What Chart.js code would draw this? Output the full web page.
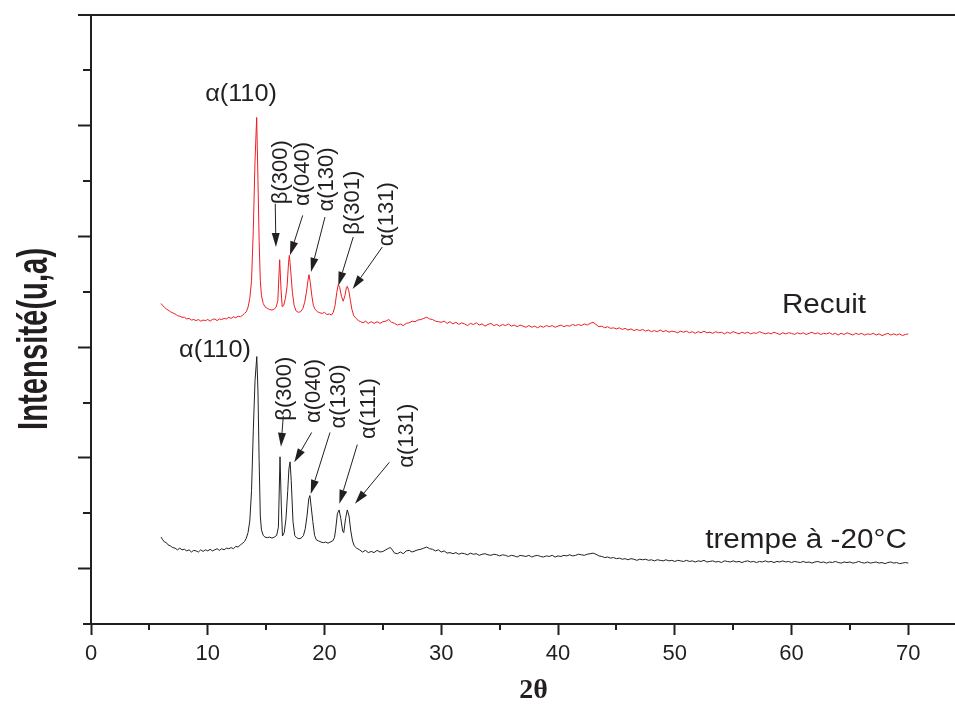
<!DOCTYPE html>
<html lang="fr">
<head>
<meta charset="utf-8">
<title>Diffractogrammes DRX</title>
<script src="https://cdn.jsdelivr.net/npm/chart.js@4.4.1/dist/chart.umd.min.js"></script>
<style>
  html, body { margin: 0; padding: 0; background: #fff; }
  canvas { display: block; }
</style>
</head>
<body>
<canvas id="drx" width="955" height="709"></canvas>
<script>
// Diffractogramme de l'échantillon recuit : [2θ (°), intensité (u.a.)]
const recuitScan = [
  [6.00,579],[6.15,575],[6.30,572],[6.45,569],[6.60,567],[6.80,564],[7.00,562],[7.20,560],[7.40,557],[7.60,556],
  [7.80,554],[8.00,554],[8.20,551],[8.40,552],[8.60,549],[8.80,550],[9.00,548],[9.20,550],[9.40,547],[9.60,549],
  [9.80,548],[10.00,550],[10.20,547],[10.40,550],[10.60,551],[10.80,548],[11.00,551],[11.20,550],[11.40,552],[11.60,551],
  [11.80,554],[12.00,552],[12.20,555],[12.40,553],[12.60,556],[12.80,555],[13.00,558],[13.15,561],[13.30,564],[13.45,572],
  [13.60,588],[13.75,620],[13.90,711],[14.05,838],[14.19,915],[14.30,801],[14.40,693],[14.50,620],[14.60,593],[14.75,579],
  [14.90,573],[15.10,570],[15.30,568],[15.50,567],[15.70,569],[15.85,572],[16.00,584],[16.16,658],[16.28,602],[16.38,573],
  [16.50,575],[16.65,588],[16.80,611],[16.92,653],[16.99,666],[17.10,639],[17.25,599],[17.40,575],[17.55,566],[17.75,563],
  [17.95,564],[18.15,570],[18.30,581],[18.45,599],[18.58,620],[18.67,631],[18.78,617],[18.92,592],[19.05,575],[19.20,568],
  [19.40,564],[19.60,562],[19.80,561],[20.00,563],[20.20,559],[20.40,560],[20.60,558],[20.75,563],[20.90,575],[21.05,599],
  [21.18,613],[21.30,608],[21.45,592],[21.60,583],[21.75,593],[21.88,608],[21.95,610],[22.08,602],[22.22,584],[22.35,568],
  [22.50,557],[22.70,552],[22.90,548],[23.10,546],[23.30,544],[23.50,547],[23.75,543],[24.00,546],[24.25,543],[24.50,546],
  [24.75,543],[25.00,546],[25.25,547],[25.50,550],[25.75,545],[26.00,543],[26.25,540],[26.50,542],[26.75,539],[27.00,543],
  [27.25,544],[27.50,547],[27.75,546],[28.00,549],[28.25,550],[28.50,552],[28.75,554],[29.00,551],[29.25,550],[29.50,547],
  [29.75,546],[30.00,545],[30.25,547],[30.50,543],[30.75,546],[31.00,542],[31.25,545],[31.50,541],[31.75,544],[32.00,542],
  [32.25,539],[32.50,543],[32.75,541],[33.00,544],[33.25,540],[33.50,542],[33.75,538],[34.00,541],[34.25,543],[34.50,539],
  [34.75,541],[35.00,538],[35.25,541],[35.50,539],[35.75,542],[36.00,538],[36.25,540],[36.50,537],[36.75,540],[37.00,538],
  [37.25,536],[37.50,539],[37.75,536],[38.00,538],[38.25,535],[38.50,538],[38.75,536],[39.00,539],[39.25,537],[39.50,539],
  [39.75,536],[40.00,538],[40.25,540],[40.50,537],[40.75,539],[41.00,538],[41.25,541],[41.50,539],[41.75,541],[42.00,539],
  [42.25,542],[42.50,540],[42.75,543],[43.00,545],[43.25,541],[43.50,537],[43.75,538],[44.00,535],[44.25,537],[44.50,534],
  [44.75,535],[45.00,533],[45.25,535],[45.50,532],[45.75,534],[46.00,531],[46.25,533],[46.50,530],[46.75,532],[47.00,530],
  [47.25,532],[47.50,529],[47.75,531],[48.00,528],[48.25,530],[48.50,528],[48.75,531],[49.00,528],[49.25,530],[49.50,527],
  [49.75,529],[50.00,528],[50.25,526],[50.50,529],[50.75,527],[51.00,529],[51.25,526],[51.50,528],[51.75,525],[52.00,528],
  [52.25,526],[52.50,529],[52.75,526],[53.00,527],[53.25,525],[53.50,528],[53.75,526],[54.00,527],[54.25,524],[54.50,527],
  [54.75,525],[55.00,528],[55.25,526],[55.50,524],[55.75,527],[56.00,525],[56.25,527],[56.50,524],[56.75,526],[57.00,525],
  [57.25,528],[57.50,526],[57.75,524],[58.00,526],[58.25,524],[58.50,527],[58.75,525],[59.00,523],[59.25,526],[59.50,524],
  [59.75,526],[60.00,525],[60.25,523],[60.50,526],[60.75,524],[61.00,526],[61.25,523],[61.50,525],[61.75,527],[62.00,524],
  [62.25,526],[62.50,523],[62.75,525],[63.00,524],[63.25,526],[63.50,523],[63.75,525],[64.00,522],[64.25,525],[64.50,523],
  [64.75,526],[65.00,524],[65.25,522],[65.50,525],[65.75,523],[66.00,525],[66.25,522],[66.50,524],[66.75,523],[67.00,525],
  [67.25,522],[67.50,524],[67.75,521],[68.00,523],[68.25,525],[68.50,522],[68.75,524],[69.00,522],[69.25,524],[69.50,521],
  [69.75,523],[70.00,524]
];

// Diffractogramme de l'échantillon trempé à -20 °C : [2θ (°), intensité (u.a.)]
const trempeScan = [
  [6.00,157],[6.15,152],[6.30,148],[6.45,147],[6.60,143],[6.80,141],[7.00,138],[7.20,137],[7.40,134],[7.60,137],
  [7.80,134],[8.00,135],[8.20,132],[8.40,134],[8.60,130],[8.80,133],[9.00,132],[9.20,130],[9.40,134],[9.60,131],
  [9.80,134],[10.00,132],[10.20,135],[10.40,132],[10.60,134],[10.80,136],[11.00,133],[11.20,136],[11.40,134],[11.60,137],
  [11.80,136],[12.00,138],[12.20,136],[12.40,140],[12.60,139],[12.80,143],[13.00,146],[13.15,149],[13.30,155],[13.45,165],
  [13.60,186],[13.75,241],[13.90,349],[14.05,440],[14.20,483],[14.30,421],[14.40,295],[14.50,195],[14.60,170],[14.75,160],
  [14.90,157],[15.10,156],[15.30,157],[15.50,155],[15.70,157],[15.90,160],[16.05,175],[16.19,302],[16.30,213],[16.40,159],
  [16.55,165],[16.70,190],[16.85,241],[16.95,280],[17.05,293],[17.15,259],[17.30,185],[17.45,160],[17.60,156],[17.80,154],
  [18.00,155],[18.20,160],[18.35,172],[18.50,195],[18.65,226],[18.75,232],[18.85,213],[19.00,185],[19.15,160],[19.30,152],
  [19.50,150],[19.70,148],[19.90,147],[20.10,148],[20.30,146],[20.50,148],[20.70,150],[20.85,156],[20.95,170],[21.10,199],
  [21.25,206],[21.40,190],[21.55,168],[21.65,165],[21.80,190],[21.95,206],[22.10,195],[22.25,168],[22.40,150],[22.55,141],
  [22.75,137],[23.00,134],[23.25,130],[23.50,133],[23.75,129],[24.00,131],[24.25,129],[24.50,133],[24.75,130],[25.00,131],
  [25.25,134],[25.50,137],[25.65,138],[25.80,134],[26.00,128],[26.25,127],[26.50,130],[26.75,127],[27.00,132],[27.25,133],
  [27.50,130],[27.75,132],[28.00,134],[28.25,135],[28.50,137],[28.75,139],[29.00,136],[29.25,135],[29.50,132],[29.75,134],
  [30.00,130],[30.25,132],[30.50,128],[30.75,129],[31.00,127],[31.25,129],[31.50,126],[31.75,128],[32.00,127],[32.25,125],
  [32.50,128],[32.75,126],[33.00,127],[33.25,124],[33.50,126],[33.75,127],[34.00,125],[34.25,124],[34.50,126],[34.75,125],
  [35.00,123],[35.25,125],[35.50,124],[35.75,122],[36.00,124],[36.25,123],[36.50,121],[36.75,124],[37.00,123],[37.25,122],
  [37.50,124],[37.75,121],[38.00,123],[38.25,124],[38.50,122],[38.75,121],[39.00,123],[39.25,122],[39.50,124],[39.75,121],
  [40.00,123],[40.25,122],[40.50,124],[40.75,123],[41.00,125],[41.25,123],[41.50,124],[41.75,126],[42.00,125],[42.25,124],
  [42.50,126],[42.75,127],[43.00,128],[43.25,126],[43.50,123],[43.75,122],[44.00,120],[44.25,121],[44.50,119],[44.75,120],
  [45.00,118],[45.25,119],[45.50,117],[45.75,118],[46.00,116],[46.25,118],[46.50,117],[46.75,115],[47.00,117],[47.25,116],
  [47.50,117],[47.75,115],[48.00,116],[48.25,114],[48.50,116],[48.75,115],[49.00,114],[49.25,116],[49.50,114],[49.75,115],
  [50.00,113],[50.25,115],[50.50,114],[50.75,113],[51.00,115],[51.25,113],[51.50,114],[51.75,112],[52.00,114],[52.25,113],
  [52.50,115],[52.75,112],[53.00,113],[53.25,114],[53.50,112],[53.75,113],[54.00,111],[54.25,114],[54.50,113],[54.75,112],
  [55.00,114],[55.25,112],[55.50,113],[55.75,111],[56.00,113],[56.25,114],[56.50,112],[56.75,113],[57.00,111],[57.25,113],
  [57.50,112],[57.75,114],[58.00,112],[58.25,113],[58.50,111],[58.75,113],[59.00,112],[59.25,114],[59.50,112],[59.75,113],
  [60.00,111],[60.25,113],[60.50,112],[60.75,111],[61.00,113],[61.25,111],[61.50,112],[61.75,110],[62.00,112],[62.25,113],
  [62.50,111],[62.75,112],[63.00,110],[63.25,112],[63.50,111],[63.75,113],[64.00,111],[64.25,110],[64.50,112],[64.75,111],
  [65.00,112],[65.25,110],[65.50,111],[65.75,113],[66.00,111],[66.25,110],[66.50,112],[66.75,110],[67.00,111],[67.25,112],
  [67.50,110],[67.75,111],[68.00,109],[68.25,111],[68.50,112],[68.75,110],[69.00,111],[69.25,109],[69.50,110],[69.75,111],
  [70.00,110]
];

// Graduations des axes
const xMajorTicks = [0, 10, 20, 30, 40, 50, 60, 70];
const xMinorTicks = [5, 15, 25, 35, 45, 55, 65];
const yMajorTicks = [100, 300, 500, 700, 900];
const yMinorTicks = [200, 400, 600, 800, 1000];

// Indexation des pics : texte, position (2θ, intensité), sens, flèche (départ -> pointe)
const peakNotes = [
  { text: 'α(110)', at: [12.85, 957] },
  { text: 'β(300)', at: [16.27, 816], vertical: true, arrow: [15.78, 759, 15.84, 681] },
  { text: 'α(040)', at: [18.18, 813], vertical: true, arrow: [18.13, 738, 17.04, 666] },
  { text: 'α(130)', at: [20.24, 803], vertical: true, arrow: [20.04, 735, 18.84, 636] },
  { text: 'β(301)', at: [22.46, 761], vertical: true, arrow: [22.46, 699, 21.18, 611] },
  { text: 'α(131)', at: [25.33, 740], vertical: true, arrow: [24.95, 681, 22.41, 605] },
  { text: 'α(110)', at: [10.62, 494] },
  { text: 'β(300)', at: [16.62, 425], vertical: true, arrow: [16.47, 376, 16.27, 320] },
  { text: 'α(040)', at: [19.10, 421], vertical: true, arrow: [18.90, 346, 17.41, 292] },
  { text: 'α(130)', at: [21.24, 411], vertical: true, arrow: [20.47, 346, 18.82, 235] },
  { text: 'α(111)', at: [23.81, 389], vertical: true, arrow: [22.81, 324, 21.27, 217] },
  { text: 'α(131)', at: [27.06, 340], vertical: true, arrow: [25.55, 292, 22.61, 217] }
];
const curveNames = [
  { text: 'Recuit', at: [62.78, 575] },
  { text: 'trempe à -20°C', at: [61.24, 150] }
];

const INK = '#231f20';
const RED = '#ee1d23';
const SANS = '"Liberation Sans", Arial, Helvetica, sans-serif';
const SERIF = '"Liberation Serif", "Times New Roman", serif';

function drawArrow(ctx, x1, y1, x2, y2) {
  const ang = Math.atan2(y2 - y1, x2 - x1);
  const len = 14, half = 4;
  const bx = x2 - len * Math.cos(ang), by = y2 - len * Math.sin(ang);
  ctx.beginPath();
  ctx.moveTo(x1, y1);
  ctx.lineTo(bx, by);
  ctx.stroke();
  ctx.beginPath();
  ctx.moveTo(x2, y2);
  ctx.lineTo(bx + half * Math.sin(ang), by - half * Math.cos(ang));
  ctx.lineTo(bx - half * Math.sin(ang), by + half * Math.cos(ang));
  ctx.closePath();
  ctx.fill();
}

// Petites graduations, cadre supérieur, titres d'axes et annotations
const decorations = {
  id: 'decorations',
  afterDraw(chart) {
    const { ctx, chartArea: a, scales: { x, y } } = chart;
    ctx.save();
    ctx.strokeStyle = INK;
    ctx.fillStyle = INK;
    ctx.lineWidth = 2;
    ctx.beginPath();
    yMinorTicks.forEach(v => {
      const p = Math.round(y.getPixelForValue(v));
      ctx.moveTo(a.left - 8, p); ctx.lineTo(a.left, p);
    });
    xMinorTicks.forEach(v => {
      const p = Math.round(x.getPixelForValue(v));
      ctx.moveTo(p, a.bottom); ctx.lineTo(p, a.bottom + 6);
    });
    const top = Math.round(y.getPixelForValue(y.max));
    ctx.moveTo(a.left - 13, top); ctx.lineTo(chart.width, top);
    const base = Math.round(y.getPixelForValue(y.min));
    ctx.moveTo(a.left - 8, base); ctx.lineTo(a.left, base);
    ctx.stroke();

    // Titre de l'axe des ordonnées (gras, étroit)
    ctx.save();
    ctx.font = 'bold 42px ' + SANS;
    ctx.textAlign = 'center';
    ctx.textBaseline = 'middle';
    const yTitle = 'Intensité(u,a)';
    const k = 182 / ctx.measureText(yTitle).width;
    ctx.translate(a.left - 56, y.getPixelForValue(515));
    ctx.rotate(-Math.PI / 2);
    ctx.scale(k, 1);
    ctx.fillText(yTitle, 0, 0);
    ctx.restore();

    // Titre de l'axe des abscisses
    ctx.font = 'bold 28px ' + SERIF;
    ctx.textAlign = 'center';
    ctx.textBaseline = 'middle';
    ctx.fillText('2θ', x.getPixelForValue(37.9), a.bottom + 67);

    // Indexation des pics
    ctx.lineWidth = 1;
    ctx.font = '22px ' + SANS;
    peakNotes.forEach(n => {
      const px = x.getPixelForValue(n.at[0]);
      const py = y.getPixelForValue(n.at[1]);
      ctx.save();
      ctx.translate(px, py);
      if (n.vertical) {
        ctx.rotate(-Math.PI / 2);
      } else {
        ctx.font = '23px ' + SANS;
        ctx.scale(1.1, 1);
      }
      ctx.fillText(n.text, 0, 0);
      ctx.restore();
      if (n.arrow) {
        const [ax1, ay1, ax2, ay2] = n.arrow;
        drawArrow(ctx, x.getPixelForValue(ax1), y.getPixelForValue(ay1),
                  x.getPixelForValue(ax2), y.getPixelForValue(ay2));
      }
    });

    // Noms des courbes
    ctx.font = '27px ' + SANS;
    curveNames.forEach(n => {
      ctx.save();
      ctx.translate(x.getPixelForValue(n.at[0]), y.getPixelForValue(n.at[1]));
      ctx.scale(1.1, 1);
      ctx.fillText(n.text, 0, 0);
      ctx.restore();
    });
    ctx.restore();
  }
};

const toPoints = scan => scan.map(([t, i]) => ({ x: t, y: i }));

new Chart(document.getElementById('drx'), {
  type: 'scatter',
  data: {
    datasets: [
      { label: 'Recuit', data: toPoints(recuitScan), showLine: true, borderColor: RED, borderWidth: 1, pointRadius: 0 },
      { label: 'trempe à -20°C', data: toPoints(trempeScan), showLine: true, borderColor: INK, borderWidth: 1, pointRadius: 0 }
    ]
  },
  options: {
    responsive: false,
    animation: false,
    layout: { padding: { top: 15, left: 78, right: 0, bottom: 35.6 } },
    plugins: { legend: { display: false }, tooltip: { enabled: false } },
    elements: { line: { tension: 0 } },
    scales: {
      x: {
        type: 'linear', min: 0, max: 74,
        afterBuildTicks: s => { s.ticks = xMajorTicks.map(v => ({ value: v })); },
        border: { display: true, color: INK, width: 2 },
        grid: { display: true, drawOnChartArea: false, drawTicks: true, tickLength: 11, tickWidth: 2, tickColor: INK },
        ticks: { color: INK, font: { family: SANS, size: 22 }, padding: 6, maxRotation: 0, autoSkip: false }
      },
      y: {
        type: 'linear', min: 0, max: 1100,
        afterBuildTicks: s => { s.ticks = yMajorTicks.map(v => ({ value: v })); },
        border: { display: true, color: INK, width: 2 },
        grid: { display: true, drawOnChartArea: false, drawTicks: true, tickLength: 13, tickWidth: 2, tickColor: INK },
        ticks: { display: false }
      }
    }
  },
  plugins: [decorations]
});
</script>
</body>
</html>
